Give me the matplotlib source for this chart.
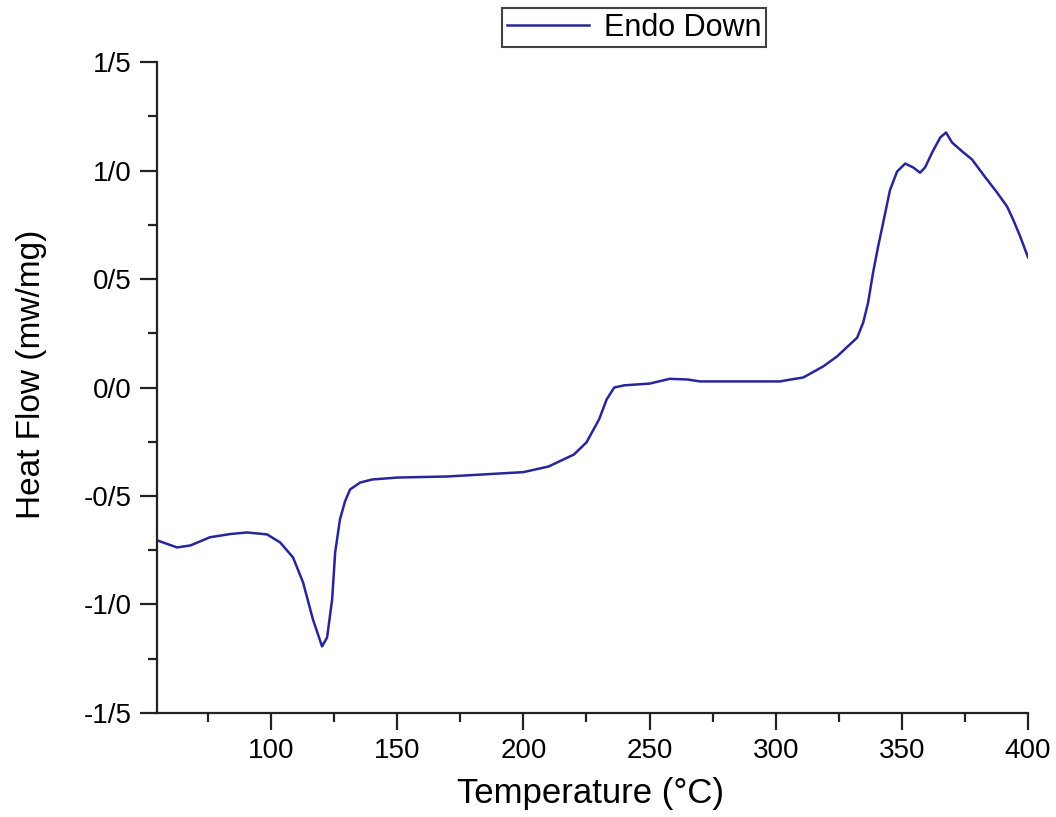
import matplotlib
matplotlib.use("Agg")
import matplotlib.pyplot as plt
from matplotlib.ticker import MultipleLocator, FixedLocator

temperature = [55, 62.7, 68, 75.8, 84, 90.5, 98.4, 103.6, 108.7, 112.7, 116.6, 120.2,
               122.2, 124.2, 125.4, 127.3, 129.3, 131.3, 135.3, 140, 150, 170, 200,
               210, 220, 225, 230, 233, 236, 240, 250, 258, 265, 270, 285, 301.7,
               305, 310.9, 318.8, 324.3, 332.3, 334.7, 336.6, 338.6, 340.6, 342.6,
               345.3, 348.1, 351.3, 354.5, 357.2, 359.2, 362, 365.2, 367.5, 369.9,
               373.9, 377.8, 382.2, 387.7, 391.7, 394.1, 396.9, 400]
heat_flow = [-0.705, -0.737, -0.728, -0.69, -0.675, -0.668, -0.677, -0.714, -0.783,
             -0.899, -1.069, -1.193, -1.152, -0.977, -0.76, -0.608, -0.525, -0.47,
             -0.438, -0.424, -0.415, -0.41, -0.39, -0.364, -0.309, -0.253, -0.147,
             -0.055, 0.0, 0.01, 0.018, 0.04, 0.037, 0.028, 0.028, 0.028, 0.035,
             0.046, 0.097, 0.143, 0.23, 0.30, 0.39, 0.53, 0.65, 0.76, 0.91, 0.995,
             1.032, 1.014, 0.99, 1.014, 1.083, 1.152, 1.175, 1.129, 1.088, 1.051,
             0.982, 0.899, 0.834, 0.774, 0.696, 0.60]
x_ticks = [100, 150, 200, 250, 300, 350, 400]
y_ticks = [-1.5, -1.0, -0.5, 0.0, 0.5, 1.0, 1.5]
y_labels = ["-1/5", "-1/0", "-0/5", "0/0", "0/5", "1/0", "1/5"]

plt.rcParams['font.family'] = ['Liberation Sans', 'DejaVu Sans']

fig = plt.figure(figsize=(10.56, 8.17), dpi=100)
ax = fig.add_axes([0.1487, 0.1273, 0.8248, 0.7968])

ax.plot(temperature, heat_flow, color='#26269a', lw=1.8, label='Endo Down')

ax.set_xlim(54.8, 400)
ax.set_ylim(-1.5, 1.5)
ax.xaxis.set_major_locator(FixedLocator(x_ticks))
ax.xaxis.set_minor_locator(MultipleLocator(25))
ax.yaxis.set_major_locator(FixedLocator(y_ticks))
ax.yaxis.set_minor_locator(MultipleLocator(0.25))
ax.set_yticklabels(y_labels)

for s in ['top', 'right']:
    ax.spines[s].set_visible(False)
for s in ['left', 'bottom']:
    ax.spines[s].set_linewidth(1.6)
    ax.spines[s].set_color('#222222')

ax.tick_params(which='major', direction='out', length=12, width=1.6, labelsize=20,
               color='#222222', pad=6)
ax.tick_params(which='minor', direction='out', length=6.5, width=1.6, color='#222222')

ax.set_xlabel('Temperature (°C)', fontsize=25)
ax.set_ylabel('Heat Flow (mw/mg)', fontsize=24)
ax.xaxis.set_label_coords(0.498, -0.098)
ax.yaxis.set_label_coords(-0.126, 0.52)

leg = fig.legend(loc='upper left', bbox_to_anchor=(502/1056, 1 - 8/817), fontsize=22,
                 frameon=True, fancybox=False, edgecolor='#111111',
                 handlelength=2.7, handletextpad=0.5, borderpad=0.15, borderaxespad=0)
leg.get_frame().set_linewidth(1.5)

fig.savefig('out.png', dpi=100, facecolor='white')
